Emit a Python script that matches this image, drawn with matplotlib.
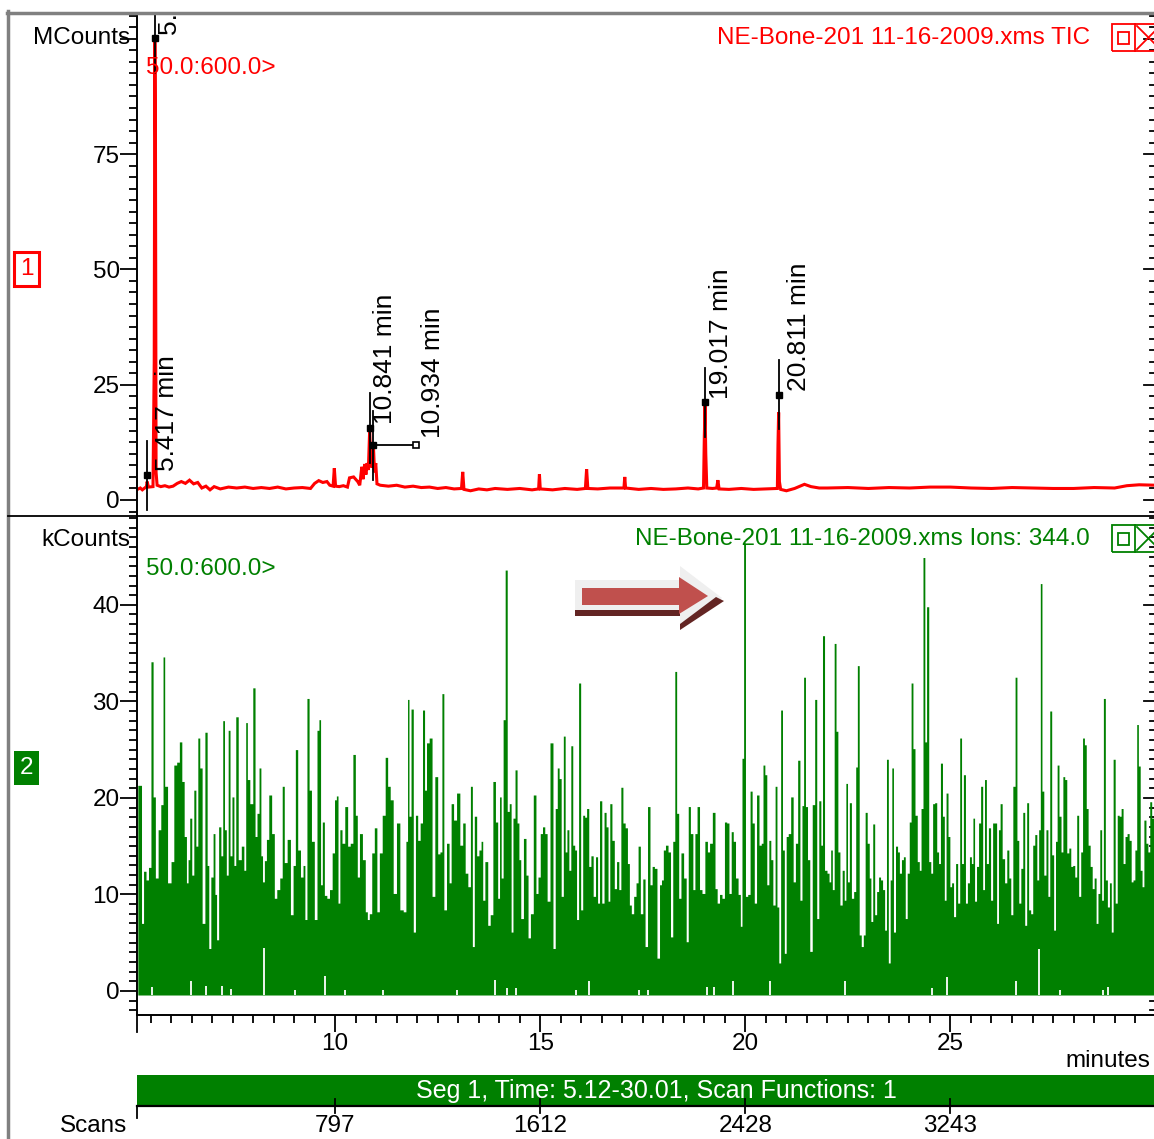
import numpy as np
import matplotlib
matplotlib.use("Agg")
import matplotlib.pyplot as plt
from matplotlib.patches import Rectangle, Polygon
from matplotlib.lines import Line2D
from matplotlib.ticker import MultipleLocator, FixedLocator

# ---------------------------------------------------------------- data
# Total ion current trace (minutes, MCounts)
tic_t = [5.18, 5.25, 5.30, 5.40, 5.417, 5.45, 5.56, 5.59, 5.605, 5.62, 5.635,
         5.66, 5.75, 5.85, 5.95, 6.05, 6.15, 6.25, 6.35, 6.45, 6.55, 6.65,
         6.75, 6.85, 6.95, 7.05, 7.20, 7.40, 7.60, 7.80, 8.00, 8.20, 8.40,
         8.60, 8.80, 9.00, 9.20, 9.40, 9.50, 9.60, 9.70, 9.80, 9.87, 9.95,
         9.98, 10.01, 10.10, 10.20, 10.30, 10.35, 10.45, 10.55, 10.60,
         10.65, 10.68, 10.72, 10.75, 10.78, 10.81, 10.841, 10.87, 10.90,
         10.934, 10.96, 10.99, 11.02, 11.10, 11.30, 11.50, 11.70, 11.90,
         12.10, 12.30, 12.50, 12.70, 12.90, 13.08, 13.11, 13.14, 13.30,
         13.50, 13.70, 13.90, 14.20, 14.50, 14.80, 14.96, 14.98, 15.00,
         15.30, 15.60, 15.90, 16.10, 16.13, 16.16, 16.40, 16.70, 17.04,
         17.06, 17.08, 17.40, 17.70, 18.00, 18.30, 18.60, 18.85, 18.98,
         19.00, 19.017, 19.035, 19.06, 19.20, 19.30, 19.33, 19.36, 19.60,
         19.90, 20.20, 20.50, 20.78, 20.795, 20.811, 20.83, 20.86, 21.00,
         21.20, 21.44, 21.60, 21.80, 22.00, 22.50, 23.00, 23.50, 24.00,
         24.50, 25.00, 25.50, 26.00, 26.50, 27.00, 27.50, 28.00, 28.50,
         29.00, 29.30, 29.60, 30.01]
tic_v = [2.3, 2.6, 2.2, 2.9, 4.0, 2.8, 2.9, 30.0, 100.0, 78.0, 6.0,
         3.2, 2.9, 3.1, 2.8, 3.0, 3.6, 4.0, 3.6, 4.3, 3.5, 3.8,
         2.6, 3.0, 2.2, 2.9, 2.4, 2.8, 2.6, 2.8, 2.5, 2.7, 2.5,
         2.8, 2.4, 2.6, 2.7, 2.5, 3.6, 4.2, 3.8, 4.0, 3.2, 3.0,
         6.9, 3.0, 2.9, 3.1, 2.8, 4.8, 5.0, 4.0, 3.2,
         7.2, 4.5, 7.8, 5.5, 8.0, 6.5, 15.0, 8.5, 7.0,
         11.5, 6.0, 8.0, 3.5, 3.2, 3.0, 3.2, 2.8, 3.0,
         2.7, 2.8, 2.5, 2.7, 2.4, 2.5, 6.1, 2.3, 2.0,
         2.4, 2.2, 2.5, 2.3, 2.5, 2.2, 2.4, 5.6, 2.4,
         2.2, 2.5, 2.3, 2.5, 6.7, 2.5, 2.4, 2.6, 2.6,
         5.0, 2.6, 2.3, 2.5, 2.3, 2.4, 2.6, 2.4, 2.6,
         14.0, 20.5, 10.0, 2.6, 2.5, 2.6, 4.3, 2.4, 2.3,
         2.5, 2.3, 2.4, 2.5, 12.0, 19.0, 4.0, 2.3, 2.0,
         2.5, 3.4, 2.9, 2.6, 2.6, 2.7, 2.5, 2.7, 2.6,
         2.8, 2.8, 2.6, 2.5, 2.7, 2.6, 2.5, 2.5, 2.7,
         2.6, 3.1, 3.3, 3.2]

# Labelled TIC peaks: retention time, marker height (MCounts)
peak_t = [5.605, 5.417, 10.841, 10.934, 19.017, 20.811]
peak_v = [100.1, 5.4, 15.6, 11.9, 21.2, 22.8]

# Extracted ion chromatogram m/z 344.0 (minutes, kCounts)
ion_t = [5.19, 5.26, 5.30, 5.36, 5.42, 5.48, 5.54, 5.585, 5.65, 5.72, 5.78,
         5.83, 5.86, 5.97, 6.03, 6.105, 6.17, 6.235, 6.29, 6.35, 6.40, 6.43,
         6.48, 6.53, 6.58, 6.63, 6.675, 6.725, 6.79, 6.86, 6.90, 6.94, 7.00,
         7.05, 7.09, 7.13, 7.19, 7.24, 7.28, 7.325, 7.37, 7.415, 7.46, 7.51,
         7.555, 7.60, 7.675, 7.75, 7.80, 7.84, 7.88, 7.96, 8.025, 8.07, 8.12,
         8.17, 8.21, 8.25, 8.30, 8.35, 8.415, 8.49, 8.545, 8.61, 8.69, 8.73,
         8.79, 8.87, 8.95, 9.00, 9.06, 9.115, 9.195, 9.24, 9.285, 9.34, 9.39,
         9.455, 9.53, 9.585, 9.625, 9.665, 9.71, 9.765, 9.83, 9.895, 9.96,
         10.01, 10.05, 10.09, 10.14, 10.195, 10.275, 10.335, 10.40, 10.465,
         10.52, 10.56, 10.625, 10.705, 10.765, 10.805, 10.86, 10.925, 10.985,
         11.05, 11.105, 11.19, 11.25, 11.31, 11.375, 11.455, 11.535, 11.62,
         11.70, 11.75, 11.78, 11.82, 11.88, 11.93, 11.985, 12.04, 12.105,
         12.155, 12.205, 12.25, 12.335, 12.39, 12.47, 12.53, 12.58, 12.625,
         12.675, 12.755, 12.80, 12.855, 12.92, 13.00, 13.08, 13.14, 13.20,
         13.27, 13.325, 13.365, 13.42, 13.48,
         13.53, 13.585, 13.61, 13.69, 13.75, 13.81, 13.88, 13.935, 13.99,
         14.025, 14.07, 14.12, 14.17, 14.22, 14.27, 14.31, 14.36, 14.41,
         14.46, 14.50, 14.55, 14.63, 14.675, 14.73, 14.79, 14.87, 14.92,
         14.97, 15.03, 15.08, 15.14, 15.195, 15.28, 15.34, 15.39, 15.44,
         15.48, 15.54, 15.585, 15.63, 15.67, 15.725, 15.765, 15.82, 15.86,
         15.91, 15.96, 16.01, 16.06, 16.105, 16.155, 16.21, 16.26, 16.32,
         16.375, 16.42, 16.47, 16.53, 16.58, 16.63, 16.675, 16.715, 16.78,
         16.83, 16.89, 16.94, 16.99, 17.04, 17.10, 17.15, 17.195, 17.245,
         17.31, 17.36, 17.41, 17.47, 17.53, 17.58, 17.65, 17.70, 17.755,
         17.81, 17.88, 17.935, 17.975, 18.025, 18.08, 18.15, 18.20, 18.26,
         18.30, 18.35, 18.40, 18.46, 18.53, 18.585, 18.63, 18.69, 18.75,
         18.79, 18.855, 18.91, 18.975, 19.05, 19.10, 19.155, 19.235, 19.285,
         19.34, 19.40, 19.46, 19.52, 19.57, 19.63, 19.68, 19.73, 19.79,
         19.855, 19.90, 19.935, 19.98, 20.025, 20.09, 20.14, 20.19, 20.245,
         20.30, 20.365, 20.41, 20.45, 20.50, 20.545, 20.60, 20.64, 20.70,
         20.75, 20.79, 20.84, 20.88, 20.93, 20.97, 21.02, 21.07, 21.14,
         21.19, 21.25, 21.30, 21.36, 21.40, 21.44, 21.49, 21.54, 21.60,
         21.66, 21.72, 21.76,
         21.82, 21.86, 21.90, 21.96, 22.02, 22.06, 22.10, 22.14, 22.19,
         22.23, 22.28, 22.33, 22.39, 22.43, 22.47, 22.51, 22.56, 22.61,
         22.67, 22.71, 22.75, 22.80, 22.85, 22.90, 22.94, 23.00, 23.04,
         23.08, 23.13, 23.175, 23.225, 23.27, 23.32, 23.37, 23.42, 23.46,
         23.51, 23.55, 23.59, 23.63, 23.69, 23.73, 23.78, 23.83, 23.875,
         23.92, 23.97, 24.02, 24.06, 24.11, 24.16, 24.22, 24.26, 24.305,
         24.355, 24.395, 24.44, 24.50, 24.54, 24.59, 24.64, 24.69, 24.73,
         24.78, 24.83, 24.87, 24.915, 24.965, 25.005, 25.05, 25.10, 25.15,
         25.20, 25.25, 25.29, 25.34, 25.39, 25.435, 25.49, 25.53, 25.565,
         25.61, 25.66, 25.71, 25.76, 25.81, 25.85, 25.90, 25.95, 26.005,
         26.05, 26.10, 26.15, 26.19, 26.23, 26.29, 26.35, 26.395, 26.45,
         26.49, 26.55, 26.60, 26.64, 26.69, 26.74, 26.785, 26.835, 26.88,
         26.93, 26.98, 27.03, 27.08, 27.13, 27.17, 27.21, 27.25, 27.30,
         27.355, 27.395, 27.445, 27.49, 27.54, 27.58, 27.62, 27.67, 27.72,
         27.76, 27.81, 27.86, 27.91, 27.955, 28.005, 28.055, 28.10, 28.15,
         28.20, 28.24, 28.29, 28.33, 28.38, 28.43, 28.48, 28.525, 28.575,
         28.615, 28.665, 28.705, 28.75, 28.80, 28.85, 28.90, 28.94, 28.99,
         29.04, 29.09, 29.135, 29.185, 29.23, 29.28, 29.33, 29.38, 29.43,
         29.47, 29.52, 29.56, 29.60, 29.65, 29.69, 29.74, 29.79, 29.835,
         29.88, 29.93, 29.97, 30.01]
ion_v = [21.3, 21.3, 7.0, 12.4, 11.5, 12.8, 34.1, 20.1, 11.7, 16.7, 19.3,
         34.6, 21.2, 11.2, 13.4, 23.4, 23.7, 25.8, 21.7, 16.0, 11.2, 13.6,
         17.9, 12.0, 20.8, 15.0, 26.2, 23.1, 7.0, 26.8, 13.0, 4.4, 11.8,
         16.3, 10.0, 5.3, 17.0, 14.0, 28.0, 16.7, 12.0, 27.0, 14.0, 20.1,
         13.0, 28.4, 13.6, 15.0, 12.5, 27.8, 21.9, 19.4, 31.4, 16.0, 18.4,
         23.1, 14.0, 11.3, 13.5, 15.7, 20.3, 16.3, 9.6, 10.5, 11.7, 21.2,
         13.3, 15.7, 7.9, 13.0, 25.0, 14.6, 11.8, 13.0, 7.4, 30.3, 20.8,
         15.5, 7.4, 27.0, 28.1, 11.0, 17.5, 9.9, 9.6, 10.5, 14.3,
         19.8, 20.2, 9.1, 16.7, 15.3, 19.1, 15.0, 15.3, 24.5,
         18.2, 11.8, 16.3, 13.6, 8.2, 7.4, 8.0, 14.3, 16.9,
         8.2, 14.3, 18.2, 24.2, 21.2, 19.8, 10.1, 17.4, 8.4,
         8.2, 15.5, 30.2, 18.1, 29.2, 6.1, 18.2, 15.6, 17.4,
         29.1, 20.8, 25.7, 26.2, 9.8, 22.2, 14.2, 14.4, 30.8,
         8.4, 15.3, 11.2, 19.4, 17.7, 20.5, 15.1, 17.4, 12.2,
         10.8, 21.2, 4.6, 18.1, 14.0,
         14.6, 15.5, 9.4, 13.4, 6.8, 7.9, 21.7, 17.5, 9.6,
         20.1, 11.7, 28.1, 43.6, 18.6, 19.4, 6.1, 17.9, 22.9,
         17.4, 13.6, 7.5, 15.8, 12.0, 5.5, 8.0, 20.3, 10.1,
         11.8, 16.3, 17.0, 16.3, 9.3, 25.7, 4.4, 18.9, 23.1,
         22.0, 9.8, 26.4, 14.4, 16.7, 12.5, 25.4, 15.1, 14.6,
         7.4, 31.9, 8.4, 18.2, 18.0, 18.9, 12.9, 14.0, 9.8,
         13.9, 9.1, 19.7, 9.1, 18.5, 17.0, 9.3, 19.4, 15.6,
         10.6, 13.4, 10.5, 21.1, 17.4, 16.9, 13.2, 8.9, 8.0,
         9.8, 11.2, 15.0, 8.0, 11.6, 4.6, 19.1, 11.0, 12.9,
         12.7, 3.4, 11.0, 11.5, 14.6, 15.1, 14.4, 5.6, 15.5,
         33.1, 18.4, 9.6, 14.3, 11.7, 5.1, 19.1, 16.3, 10.5,
         16.3, 19.1, 10.5, 10.1, 15.5, 14.4, 15.3, 18.5, 10.6,
         9.1, 10.0, 9.6, 17.5, 17.4, 10.1, 16.5, 15.5, 11.7,
         10.0, 6.7, 24.1, 46.4, 9.8, 10.0, 20.7, 17.4, 9.1,
         20.3, 15.1, 15.3, 23.4, 22.4, 11.0, 15.6, 13.6, 8.9,
         21.2, 8.7, 2.9, 29.1, 14.6, 3.9, 16.0, 16.3, 20.1,
         11.3, 15.3, 23.9, 9.4, 19.2, 32.5, 19.1, 13.6, 4.1,
         19.3, 30.2, 7.5,
         19.7, 15.1, 36.8, 12.5, 12.2, 11.3, 14.6, 10.5, 36.0,
         26.9, 14.4, 8.9, 12.5, 9.4, 21.5, 11.3, 19.5, 9.6,
         10.3, 23.2, 33.7, 5.8, 4.6, 5.8, 18.5, 15.3, 11.7,
         7.2, 17.3, 7.9, 10.3, 11.8, 11.5, 10.5, 6.3, 24.0,
         2.9, 11.5, 23.1, 6.1, 15.0, 14.4, 12.2, 13.6, 13.9,
         7.5, 12.2, 17.5, 31.9, 25.1, 18.2, 13.4, 12.5, 18.9,
         44.9, 25.8, 39.8, 13.4, 12.2, 19.4, 19.5, 14.4, 13.2,
         23.6, 18.1, 9.4, 20.5, 16.0, 10.8, 11.2, 7.7, 13.2,
         9.1, 26.2, 13.2, 22.4, 9.1, 11.2, 13.9, 13.2, 17.9,
         9.3, 12.9, 17.4, 21.2, 10.5, 21.9, 13.2, 16.9, 9.4,
         17.4, 17.4, 7.0, 16.7, 19.4, 13.7, 11.2, 14.6, 11.7,
         7.9, 21.2, 32.5, 15.6, 9.1, 12.7, 18.5, 6.8, 19.5,
         8.4, 8.0, 15.1, 16.2, 11.5, 16.7, 42.2, 20.7, 12.0,
         16.7, 9.8, 29.0, 14.1, 6.3, 15.5, 23.4, 18.1, 14.4,
         22.2, 21.9, 14.3, 14.8, 12.9, 13.0, 11.8, 18.2, 9.8,
         14.4, 26.2, 25.5, 18.9, 15.1, 12.9, 10.6, 11.7, 7.0,
         10.1, 16.7, 9.4, 30.3, 11.5, 8.7, 11.2, 6.1, 24.0,
         9.1, 18.2, 18.1, 18.9, 13.2, 16.0, 16.3, 15.6, 11.3,
         11.5, 14.6, 27.6, 23.3, 12.5, 10.8, 17.7, 15.3, 14.4,
         19.6, 17.9, 15.3, 15.3]

# Scans where the ion trace does not reach its floor (minutes, kCounts)
ion_gap_t = [5.54, 6.48, 6.86, 7.23, 7.455, 8.26, 9.02, 9.765, 10.25, 11.17,
             12.96, 13.89, 14.18, 14.40, 15.86, 16.19, 17.41, 17.635, 19.06,
             19.24, 19.71, 20.60, 22.43, 24.54, 24.91, 26.60, 27.16, 27.67,
             28.73, 28.85]
ion_gap_v = [0.4, 1.0, 0.5, 0.5, 0.2, 4.5, 0.1, 1.6, 0.1, 0.1,
             0.1, 1.1, 0.3, 0.3, 0.1, 1.0, 0.1, 0.1, 0.4,
             0.4, 1.0, 1.0, 1.0, 0.3, 1.4, 1.0, 4.3, 0.1,
             0.1, 0.4]

# Time axis ticks and the matching scan numbers
time_ticks = [10, 15, 20, 25]
scan_ticks = [797, 1612, 2428, 3243]

# ---------------------------------------------------------------- layout
W, H, DPI = 1154, 1139, 100
RED, GREEN, GRAY = '#ff0000', '#008000', '#808080'
FS = 17.5
FS_PEAK = 19
plt.rcParams['font.family'] = ['Liberation Sans', 'DejaVu Sans']

fig = plt.figure(figsize=(W / DPI, H / DPI), dpi=DPI)
fig.patch.set_facecolor('white')


def fx(x):
    return x / W


def fy(y):
    return 1 - y / H


X0, X1 = 137, 1156
TMIN, TMAX = 5.17, 30.01

ax1 = fig.add_axes([fx(X0), fy(516), fx(X1) - fx(X0), fy(13) - fy(516)])
ax2 = fig.add_axes([fx(X0), fy(1015), fx(X1) - fx(X0), fy(516) - fy(1015)])

for ax in (ax1, ax2):
    ax.set_xlim(TMIN, TMAX)
    ax.set_facecolor('none')
    for s in ('top', 'right'):
        ax.spines[s].set_visible(False)
    ax.spines['left'].set_linewidth(1.4)
    ax.tick_params(axis='y', which='major', direction='out', length=12.5,
                   width=1.3, labelsize=FS, pad=0, right=False)
    ax.tick_params(axis='y', which='minor', direction='out', length=6,
                   width=1.3)
    ax.tick_params(axis='x', which='both', labelbottom=False, bottom=False)

ax1.spines['bottom'].set_visible(False)
ax1.set_ylim(-3.47, 105.6)
ax1.yaxis.set_major_locator(FixedLocator([0, 25, 50, 75, 100]))
ax1.yaxis.set_minor_locator(MultipleLocator(2.5))
ax1.set_yticklabels(['0', '25', '50', '75', ''])

ax2.set_ylim(-2.49, 49.2)
ax2.yaxis.set_major_locator(FixedLocator([0, 10, 20, 30, 40]))
ax2.yaxis.set_minor_locator(MultipleLocator(1))
ax2.spines['bottom'].set_linewidth(1.4)
ax2.xaxis.set_major_locator(FixedLocator(time_ticks))
ax2.xaxis.set_minor_locator(MultipleLocator(0.5))
ax2.tick_params(axis='x', which='major', bottom=True, labelbottom=True,
                direction='out', length=12, width=1.3, labelsize=FS, pad=1)
ax2.tick_params(axis='x', which='minor', bottom=True, direction='out',
                length=6, width=1.3)

# right-hand inner ticks (mostly cut at the frame edge)
for ax, step, big in ((ax1, 2.5, 25), (ax2, 1, 10)):
    lo, hi = ax.get_ylim()
    vals = np.arange(np.ceil(lo / step) * step, hi, step)
    for v in vals:
        major = abs(v / big - round(v / big)) < 1e-6
        ln = Line2D([1 - (12 if major else 6) / (X1 - X0), 1], [v, v],
                    transform=ax.get_yaxis_transform(), color='black',
                    lw=1.3, clip_on=False)
        ax.add_line(ln)

# ---------------------------------------------------------------- TIC
ax1.plot(tic_t, tic_v, color=RED, lw=2.2, solid_joinstyle='miter', zorder=2)

px_per_t = (X1 - X0) / (TMAX - TMIN)
half = 7.5
label_dx = [3, 8, 3, 0, 4, 8]
for i, (t, v) in enumerate(zip(peak_t, peak_v)):
    ax1.plot([t, t], [v - half, v + half], color='black', lw=1.3, zorder=3,
             clip_on=True)
    ax1.plot([t], [v], marker='s', ms=4.5, color='black', zorder=4,
             clip_on=True)
    label = f'{t:.3f} min'
    if abs(t - 10.934) < 1e-6:
        tx = t + 43 / px_per_t
        ax1.plot([t, tx], [v, v], color='black', lw=1.3, zorder=3)
        ax1.plot([tx], [v], marker='s', ms=4.5, mfc='white', mec='black',
                 mew=1.2, zorder=4)
        lx = tx + 5 / px_per_t
        ly = v + 1.6
    else:
        lx = t + label_dx[i] / px_per_t
        ly = v + 0.8
    ax1.text(lx, ly, label, rotation=90, rotation_mode='anchor',
             ha='left', va='top', fontsize=FS_PEAK, color='black',
             clip_on=True, zorder=5)

# ---------------------------------------------------------------- ion trace
ax2.fill_between(ion_t, -0.42, ion_v, step='mid', color=GREEN, lw=0,
                 zorder=2)
ax2.vlines(ion_gap_t, -0.45, ion_gap_v, color='white', lw=1.3, zorder=3)

# ---------------------------------------------------------------- frame
fig.add_artist(Line2D([fx(8), fx(8)], [fy(11), fy(1139)], color=GRAY, lw=2.5))
fig.add_artist(Line2D([fx(7), fx(1154)], [fy(12.5), fy(12.5)], color=GRAY,
                      lw=2.5))
fig.add_artist(Line2D([fx(8), fx(1154)], [fy(516), fy(516)], color='black',
                      lw=1.3))

# panel captions
fig.text(fx(130), fy(38), 'MCounts', ha='right', va='center', fontsize=FS)
fig.text(fx(146), fy(68), '50.0:600.0>', ha='left', va='center',
         fontsize=FS, color=RED)
fig.text(fx(1090), fy(38), 'NE-Bone-201 11-16-2009.xms TIC', ha='right',
         va='center', fontsize=FS, color=RED)
fig.text(fx(130), fy(540), 'kCounts', ha='right', va='center', fontsize=FS)
fig.text(fx(146), fy(569), '50.0:600.0>', ha='left', va='center',
         fontsize=FS, color=GREEN)
fig.text(fx(1090), fy(539), 'NE-Bone-201 11-16-2009.xms Ions: 344.0',
         ha='right', va='center', fontsize=FS, color=GREEN, zorder=1)


def icon(y0, col):
    fig.add_artist(Rectangle((fx(1112), fy(y0 + 27)), fx(50), 27 / H,
                             fill=False, ec=col, lw=1.3))
    fig.add_artist(Line2D([fx(1135), fx(1135)], [fy(y0), fy(y0 + 27)],
                          color=col, lw=1.3))
    fig.add_artist(Rectangle((fx(1118), fy(y0 + 20)), fx(11), 12 / H,
                             fill=False, ec=col, lw=1.3))
    fig.add_artist(Line2D([fx(1137), fx(1160)], [fy(y0 + 2), fy(y0 + 25)],
                          color=col, lw=1.3))
    fig.add_artist(Line2D([fx(1137), fx(1160)], [fy(y0 + 25), fy(y0 + 2)],
                          color=col, lw=1.3))


icon(24, RED)
icon(525, GREEN)

# trace numbers
fig.add_artist(Rectangle((fx(14), fy(286)), fx(25), 34 / H, fill=False,
                         ec=RED, lw=2.2))
fig.text(fx(26.5), fy(269), '1', ha='center', va='center', fontsize=FS,
         color=RED)
fig.add_artist(Rectangle((fx(14), fy(785)), fx(25), 34 / H, fc=GREEN,
                         ec=GREEN, lw=0))
fig.text(fx(26.5), fy(768), '2', ha='center', va='center', fontsize=FS,
         color='white')

# marker arrow
fig.add_artist(Polygon([(fx(575), fy(580)), (fx(680), fy(580)),
                        (fx(680), fy(566)), (fx(722), fy(598)),
                        (fx(680), fy(630)), (fx(680), fy(614)),
                        (fx(575), fy(614))], closed=True, fc='#efefef',
                       ec='none'))
fig.add_artist(Polygon([(fx(575), fy(610)), (fx(680), fy(610)),
                        (fx(680), fy(616)), (fx(575), fy(616))],
                       closed=True, fc='#632523', ec='none'))
fig.add_artist(Polygon([(fx(680), fy(624)), (fx(716), fy(597)),
                        (fx(724), fy(601)), (fx(680), fy(630))],
                       closed=True, fc='#632523', ec='none'))
fig.add_artist(Polygon([(fx(582), fy(588)), (fx(679), fy(588)),
                        (fx(679), fy(577)), (fx(708), fy(596)),
                        (fx(679), fy(614)), (fx(679), fy(605)),
                        (fx(582), fy(605))], closed=True, fc='#c0504d',
                       ec='none'))

# x-axis caption
fig.text(fx(1150), fy(1061), 'minutes', ha='right', va='center', fontsize=FS)
fig.add_artist(Line2D([fx(X0), fx(X0)], [fy(1015), fy(1032)], color='black',
                      lw=1.3))

# segment bar and scan axis
fig.add_artist(Rectangle((fx(X0), fy(1106)), fx(X1 - X0), 31 / H, fc=GREEN,
                         ec='none'))
fig.text(fx(656), fy(1091), 'Seg 1, Time: 5.12-30.01, Scan Functions: 1',
         ha='center', va='center', fontsize=18, color='white')
fig.add_artist(Line2D([fx(X0), fx(1154)], [fy(1106), fy(1106)],
                      color='black', lw=1.6))
fig.add_artist(Line2D([fx(X0), fx(X0)], [fy(1106), fy(1118)], color='black',
                      lw=1.3))
slope = np.polyfit(time_ticks, scan_ticks, 1)
for s in scan_ticks:
    t = (s - slope[1]) / slope[0]
    xp = X0 + (t - TMIN) * px_per_t
    fig.add_artist(Line2D([fx(xp), fx(xp)], [fy(1099), fy(1113)],
                          color='black', lw=1.3))
    fig.text(fx(xp), fy(1126), str(s), ha='center', va='center', fontsize=FS)
fig.text(fx(127), fy(1126), 'Scans', ha='right', va='center', fontsize=FS)

fig.savefig('out.png', dpi=DPI)
